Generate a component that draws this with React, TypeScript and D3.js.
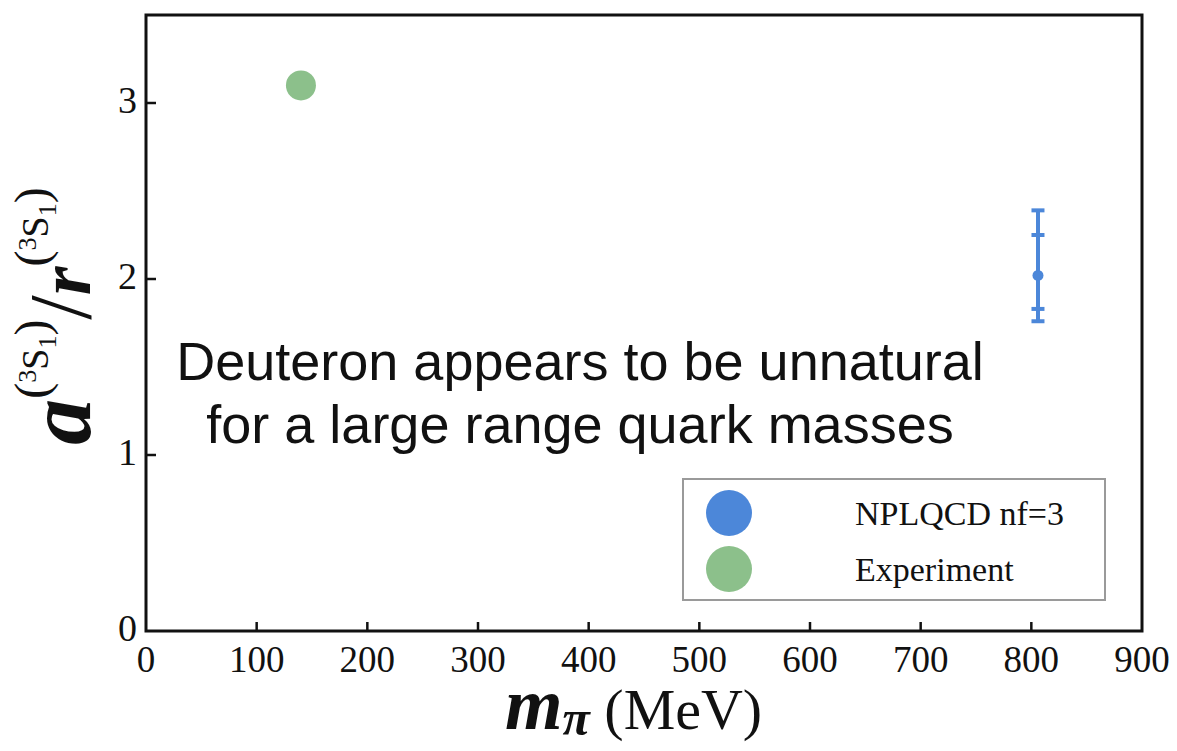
import React from "react";
import * as d3 from "d3";

// Deuteron scattering length over effective range vs pion mass
const seriesNames = ["NPLQCD nf=3", "Experiment"];
const seriesColors = ["#4c87d9", "#8cc08b"];
const pionMass = [806, 140]; // MeV
const ratio = [2.02, 3.1];
// lattice uncertainties: inner (statistical) and outer (total) bands
const innerLow = [1.83, null];
const innerHigh = [2.25, null];
const outerLow = [1.76, null];
const outerHigh = [2.39, null];

const xTicks = [0, 100, 200, 300, 400, 500, 600, 700, 800, 900];
const yTicks = [0, 1, 2, 3];
const noteLines = [
  "Deuteron appears to be unnatural",
  "for a large range quark masses",
];

const W = 1177;
const H = 751;
const M = { left: 146, right: 1142, top: 15, bottom: 631 };
const serif = "'Liberation Serif', 'Times New Roman', serif";

export default function App() {
  const x = d3.scaleLinear().domain([0, 900]).range([M.left, M.right]);
  const y = d3.scaleLinear().domain([0, 3.5]).range([M.bottom, M.top]);

  const ink = "#111";

  return (
    <svg
      width={W}
      height={H}
      viewBox={`0 0 ${W} ${H}`}
      style={{ position: "absolute", left: 0, top: 0, background: "#fff" }}
    >
      {/* frame */}
      <rect
        x={M.left}
        y={M.top}
        width={M.right - M.left}
        height={M.bottom - M.top}
        fill="none"
        stroke={ink}
        strokeWidth={3}
      />

      {/* x ticks */}
      {xTicks.map((t) => (
        <g key={"x" + t}>
          {t > 0 && t < 900 && (
            <line
              x1={x(t)}
              x2={x(t)}
              y1={M.bottom}
              y2={M.bottom - 9}
              stroke={ink}
              strokeWidth={2.5}
            />
          )}
          <text
            x={x(t)}
            y={672}
            textAnchor="middle"
            fontFamily={serif}
            fontSize={37}
            fill={ink}
          >
            {t}
          </text>
        </g>
      ))}

      {/* y ticks */}
      {yTicks.map((t) => (
        <g key={"y" + t}>
          {t > 0 && (
            <line
              x1={M.left}
              x2={M.left + 10}
              y1={y(t)}
              y2={y(t)}
              stroke={ink}
              strokeWidth={2.5}
            />
          )}
          <text
            x={137}
            y={y(t) + 10}
            textAnchor="end"
            fontFamily={serif}
            fontSize={38}
            fill={ink}
          >
            {t}
          </text>
        </g>
      ))}

      {/* error bar for the lattice point */}
      {pionMass.map((m, i) => {
        if (outerLow[i] == null) return null;
        const cx = x(m);
        const cap = 6.5;
        const marks = [outerLow[i], innerLow[i], innerHigh[i], outerHigh[i]] as number[];
        return (
          <g key={"err" + i} stroke={seriesColors[i]} strokeWidth={4}>
            <line x1={cx} x2={cx} y1={y(outerLow[i] as number)} y2={y(outerHigh[i] as number)} />
            {marks.map((v, k) => (
              <line key={k} x1={cx - cap} x2={cx + cap} y1={y(v)} y2={y(v)} />
            ))}
            <circle cx={cx} cy={y(ratio[i])} r={5.5} fill={seriesColors[i]} stroke="none" />
          </g>
        );
      })}

      {/* experimental point */}
      {pionMass.map((m, i) =>
        outerLow[i] == null ? (
          <circle key={"pt" + i} cx={x(m)} cy={y(ratio[i])} r={15} fill={seriesColors[i]} />
        ) : null
      )}

      {/* annotation */}
      {noteLines.map((line, i) => (
        <text
          key={"note" + i}
          x={580}
          y={380 + i * 63}
          textAnchor="middle"
          fontFamily="'Liberation Sans', Helvetica, Arial, sans-serif"
          fontSize={54}
          fill={ink}
        >
          {line}
        </text>
      ))}

      {/* legend */}
      <g>
        <rect x={683} y={479} width={422} height={121} fill="#fff" stroke="#9a9a9a" strokeWidth={2} />
        {seriesNames.map((name, i) => (
          <g key={name}>
            <circle cx={729} cy={513 + i * 56} r={23} fill={seriesColors[i]} />
            <text x={855} y={525 + i * 56} fontFamily={serif} fontSize={34} fill={ink}>
              {name}
            </text>
          </g>
        ))}
      </g>

      {/* x axis label */}
      <text x={505} y={729} fontFamily={serif} fill={ink}>
        <tspan fontSize={74} fontStyle="italic" fontWeight="bold">m</tspan>
        <tspan fontSize={50} fontStyle="italic" fontWeight="bold" dy={6}>π</tspan>
        <tspan fontSize={58} dy={-6}> (MeV)</tspan>
      </text>

      {/* y axis label */}
      <g transform="translate(90,316) rotate(-90)">
        <text textAnchor="middle" fontFamily={serif} fill={ink}>
          <tspan fontSize={92} fontStyle="italic" fontWeight="bold">a</tspan>
          <tspan fontSize={48} dy={-42}>(</tspan>
          <tspan fontSize={26} dy={-12}>3</tspan>
          <tspan fontSize={38} dy={12}>S</tspan>
          <tspan fontSize={26} dy={8}>1</tspan>
          <tspan fontSize={48} dy={-8}>)</tspan>
          <tspan fontSize={88} dy={42}>/</tspan>
          <tspan fontSize={74} fontStyle="italic" fontWeight="bold">r</tspan>
          <tspan fontSize={48} dy={-42}>(</tspan>
          <tspan fontSize={26} dy={-12}>3</tspan>
          <tspan fontSize={38} dy={12}>S</tspan>
          <tspan fontSize={26} dy={8}>1</tspan>
          <tspan fontSize={48} dy={-8}>)</tspan>
        </text>
      </g>
    </svg>
  );
}
